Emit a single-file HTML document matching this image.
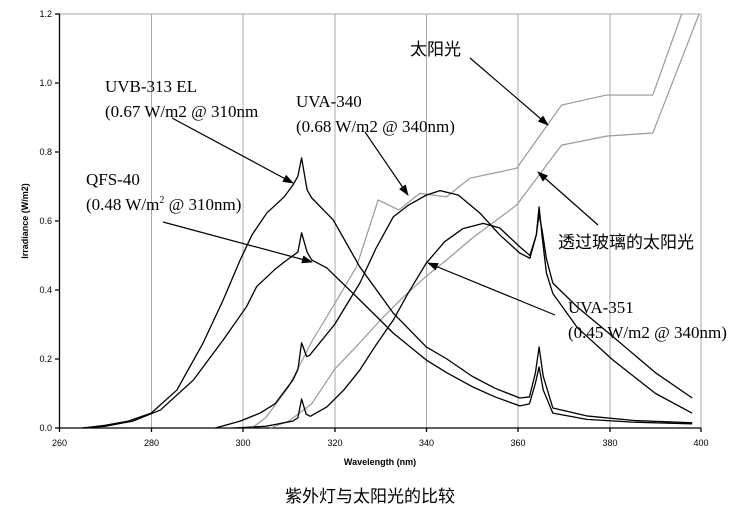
<!DOCTYPE html>
<html><head><meta charset="utf-8"><style>
html,body{margin:0;padding:0;background:#fff;}
svg{display:block;}
.t{font-family:"Liberation Sans",sans-serif;font-size:9px;fill:#000;}
.s{font-family:"Liberation Serif","Noto Serif CJK SC",serif;font-size:17px;fill:#000;}
.c{font-family:"Liberation Sans","Noto Sans CJK SC",sans-serif;font-size:17px;fill:#000;}
</style></head><body>
<svg width="742" height="514" viewBox="0 0 742 514" xmlns="http://www.w3.org/2000/svg">
<defs><marker id="a" markerWidth="11" markerHeight="8" refX="10" refY="4" orient="auto" markerUnits="userSpaceOnUse"><path d="M0,0 L11,4 L0,8 z" fill="#000"/></marker></defs>
<g stroke="#aaa" stroke-width="1">
<line x1="59.5" y1="14" x2="701" y2="14"/>
<line x1="151.5" y1="14" x2="151.5" y2="428"/>
<line x1="243" y1="14" x2="243" y2="428"/>
<line x1="335" y1="14" x2="335" y2="428"/>
<line x1="426.5" y1="14" x2="426.5" y2="428"/>
<line x1="518" y1="14" x2="518" y2="428"/>
<line x1="610" y1="14" x2="610" y2="428"/>
<line x1="701" y1="14" x2="701" y2="428"/>
</g>
<g stroke="#000" stroke-width="1.3">
<line x1="59.5" y1="14" x2="59.5" y2="429"/>
<line x1="59" y1="428" x2="701" y2="428"/>
<path d="M55,14h5M55,83h5M55,152h5M55,221h5M55,290h5M55,359h5M55,428h5M59.5,428v4M151.5,428v4M243,428v4M335,428v4M426.5,428v4M518,428v4M610,428v4M701,428v4" fill="none"/>
</g>
<g class="t" text-anchor="end">
<text x="52" y="17">1.2</text><text x="52" y="86">1.0</text><text x="52" y="155">0.8</text><text x="52" y="224">0.6</text><text x="52" y="293">0.4</text><text x="52" y="362">0.2</text><text x="52" y="431">0.0</text>
</g>
<g class="t" text-anchor="middle">
<text x="59.5" y="446">260</text><text x="151.5" y="446">280</text><text x="243" y="446">300</text><text x="335" y="446">320</text><text x="426.5" y="446">340</text><text x="518" y="446">360</text><text x="610" y="446">380</text><text x="701" y="446">400</text>
<text x="380" y="465" font-weight="bold">Wavelength (nm)</text>
<text transform="translate(28,221) rotate(-90)" font-weight="bold">Irradiance (W/m2)</text>
</g>
<g transform="translate(59.5,428) scale(4.585,-345) translate(-260,0)" fill="none" stroke-linejoin="round">
<polyline vector-effect="non-scaling-stroke" stroke="#999" stroke-width="1.2" points="302,0 305,0.03 310,0.12 315,0.25 320,0.36 324.8,0.468 329.5,0.661 334,0.632 338.6,0.68 344.4,0.67 349.5,0.724 359.7,0.753 369.5,0.936 379.3,0.965 389.4,0.965 395.7,1.2"/>
<polyline vector-effect="non-scaling-stroke" stroke="#999" stroke-width="1.2" points="306,0 310,0.02 315,0.07 320,0.17 325,0.24 330,0.313 335,0.38 340,0.44 344.4,0.487 350,0.55 359.7,0.646 369.5,0.82 379.3,0.846 389.4,0.855 399.5,1.2"/>
<polyline vector-effect="non-scaling-stroke" stroke="#000" stroke-width="1.3" points="265,0 270,0.008 275,0.02 280,0.043 285.6,0.11 291.3,0.246 295.7,0.371 299.4,0.487 302,0.56 305.2,0.623 309,0.67 310.9,0.704 312,0.73 312.8,0.783 314,0.69 315,0.667 319.7,0.603 325.5,0.467 332.8,0.333 340,0.235 344.5,0.2 350,0.15 355,0.115 360.4,0.087 362.5,0.09 363.8,0.16 364.6,0.235 365.5,0.15 367.6,0.058 375,0.035 385,0.022 398,0.015"/>
<polyline vector-effect="non-scaling-stroke" stroke="#000" stroke-width="1.3" points="265,0 270,0.005 276,0.02 282,0.052 289.2,0.139 295.7,0.255 300.8,0.352 303,0.41 307,0.46 309.6,0.487 312,0.51 312.8,0.566 314,0.51 315,0.487 318.3,0.464 325.5,0.371 332.8,0.275 340,0.197 344.5,0.16 350,0.12 355,0.09 360.4,0.064 362.5,0.07 363.8,0.13 364.6,0.177 365.5,0.11 367.6,0.043 375,0.025 385,0.017 398,0.012"/>
<polyline vector-effect="non-scaling-stroke" stroke="#000" stroke-width="1.3" points="294,0 299.4,0.02 303.7,0.043 307,0.07 310.9,0.139 312,0.17 312.8,0.247 313.9,0.207 314.5,0.21 320,0.3 325.5,0.42 329,0.52 332.8,0.612 336,0.645 340,0.675 343,0.688 347,0.675 351.7,0.623 356,0.56 360.4,0.507 362.6,0.492 364,0.56 364.6,0.641 365.3,0.55 366.2,0.449 367.6,0.39 373,0.29 380.7,0.197 390,0.1 398,0.043"/>
<polyline vector-effect="non-scaling-stroke" stroke="#000" stroke-width="1.3" points="298,0 305,0.005 310.9,0.02 312,0.03 312.8,0.084 313.8,0.04 314.7,0.034 318.3,0.061 322,0.11 325.5,0.168 329,0.24 332.8,0.313 336,0.39 340,0.478 344,0.54 348,0.578 352.4,0.593 356,0.58 360.4,0.525 362.6,0.5 364,0.56 364.6,0.62 365.3,0.57 366.2,0.49 367.6,0.42 373,0.35 380.7,0.265 390,0.16 398,0.087"/>
</g>
<g stroke="#000" stroke-width="1.2" marker-end="url(#a)">
<line x1="172" y1="118" x2="293" y2="183"/>
<line x1="163" y1="222" x2="312" y2="262"/>
<line x1="365" y1="132" x2="408" y2="195"/>
<line x1="470" y1="58" x2="548" y2="125"/>
<line x1="598" y1="225" x2="538" y2="172"/>
<line x1="555" y1="315" x2="428" y2="263"/>
</g>
<text class="s" x="105" y="92">UVB-313 EL</text>
<text class="s" x="105" y="117">(0.67 W/m2 @ 310nm</text>
<text class="s" x="86" y="185">QFS-40</text>
<text class="s" x="86" y="210">(0.48 W/m<tspan font-size="10" dy="-7">2</tspan><tspan dy="7"> @ 310nm)</tspan></text>
<text class="s" x="296" y="107">UVA-340</text>
<text class="s" x="296" y="132">(0.68 W/m2 @ 340nm)</text>
<text class="c" x="410" y="55">太阳光</text>
<text class="c" x="558" y="248">透过玻璃的太阳光</text>
<text class="s" x="568" y="313">UVA-351</text>
<text class="s" x="568" y="338">(0.45 W/m2 @ 340nm)</text>
<text class="c" x="370" y="502" text-anchor="middle">紫外灯与太阳光的比较</text>
</svg>
</body></html>
